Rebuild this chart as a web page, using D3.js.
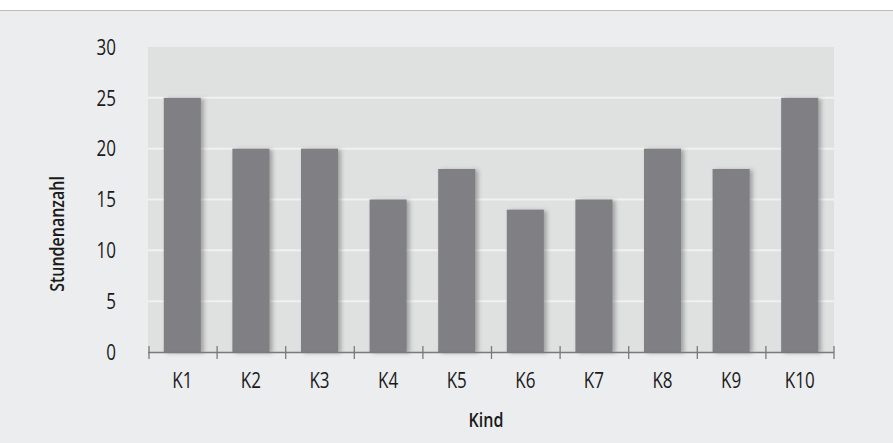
<!DOCTYPE html>
<html><head><meta charset="utf-8">
<script src="https://cdn.jsdelivr.net/npm/d3@7"></script>
<style>
html,body{margin:0;padding:0;background:#fff;}
text{font-family:"Open Sans","Noto Sans",sans-serif;fill:#1a1a1a;}
text.st{transform-box:fill-box;transform-origin:center;transform:scaleY(1.28);}
</style></head>
<body><svg id="c" width="893" height="443"></svg>
<script>
const categories = ["K1","K2","K3","K4","K5","K6","K7","K8","K9","K10"];
const hours = [25,20,20,15,18,14,15,20,18,25];
const yTicks = [0,5,10,15,20,25,30];
const xTitle = "Kind";
const yTitle = "Stundenanzahl";

const svg = d3.select("#c");
const W = 893, H = 443;
const m = {left:148, right:834, top:47, bottom:352};

svg.append("rect").attr("x",0).attr("y",10).attr("width",W).attr("height",H-10).attr("fill","#ecedef");
svg.append("line").attr("x1",0).attr("x2",W).attr("y1",10.5).attr("y2",10.5).attr("stroke","#bdbdbd").attr("stroke-width",1);

const defs = svg.append("defs");
const f = defs.append("filter").attr("id","sh").attr("x","-30%").attr("y","-10%").attr("width","160%").attr("height","120%");
f.append("feDropShadow").attr("dx",3).attr("dy",1).attr("stdDeviation",2).attr("flood-color","#555").attr("flood-opacity",0.45);

const x = d3.scaleBand().domain(categories).range([m.left,m.right]).paddingInner(0.46).paddingOuter(0.23);
const y = d3.scaleLinear().domain([0,30]).range([m.bottom,m.top]);

svg.append("rect").attr("x",m.left).attr("y",m.top).attr("width",m.right-m.left).attr("height",m.bottom-m.top).attr("fill","#dfe0e0");

svg.append("g").selectAll("line").data(yTicks.filter(d=>d>0&&d<30)).join("line")
  .attr("x1",m.left).attr("x2",m.right).attr("y1",d=>y(d)).attr("y2",d=>y(d))
  .attr("stroke","#f0f1f2").attr("stroke-width",2);

svg.append("g").selectAll("rect").data(hours).join("rect")
  .attr("x",(d,i)=>x(categories[i])).attr("width",x.bandwidth())
  .attr("y",d=>y(d)).attr("height",d=>y(0)-y(d))
  .attr("fill","#807f84").attr("filter","url(#sh)");

// y axis labels
const ya = svg.append("g").attr("transform",`translate(${m.left},0)`)
  .call(d3.axisLeft(y).tickValues(yTicks).tickSize(0).tickPadding(32));
ya.select(".domain").remove();
ya.selectAll("text").attr("class","st").attr("font-size",17).attr("fill","#1a1a1a").attr("font-family",null);

// x axis
const xa = svg.append("g").attr("transform",`translate(0,${m.bottom+0.5})`)
  .call(d3.axisBottom(x).tickSize(0).tickPadding(22));
xa.select(".domain").attr("stroke","#7a7a7a").attr("stroke-width",1.5).attr("d",`M${m.left},0H${m.right}`);
xa.selectAll("text").attr("class","st").attr("font-size",17).attr("fill","#1a1a1a").attr("font-family",null);
const bounds = categories.map(c=>x(c)-x.step()*x.paddingInner()/2+0.5).concat([m.right]);
bounds[0]=m.left+1;
svg.append("g").selectAll("line").data(bounds).join("line")
  .attr("x1",d=>d).attr("x2",d=>d).attr("y1",m.bottom-6).attr("y2",m.bottom+7)
  .attr("stroke","#7a7a7a").attr("stroke-width",1.3);

svg.append("text").attr("class","st").attr("x",486).attr("y",425).attr("text-anchor","middle")
  .attr("font-size",16).attr("font-weight",600).text(xTitle);
svg.append("g").attr("transform",`translate(62,234) rotate(-90)`)
  .append("text").attr("class","st").attr("text-anchor","middle")
  .attr("font-size",16).attr("font-weight",600).text(yTitle);
</script></body></html>
